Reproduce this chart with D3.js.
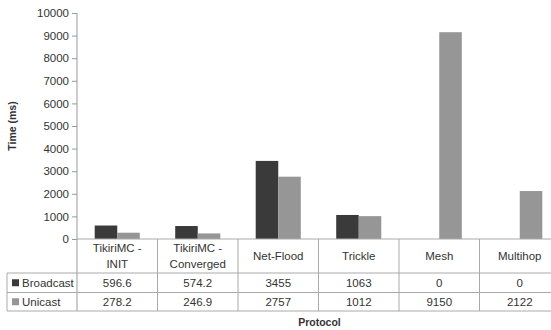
<!DOCTYPE html>
<html>
<head>
<meta charset="utf-8">
<script src="https://cdn.jsdelivr.net/npm/d3@7"></script>
<style>
  html, body { margin: 0; padding: 0; background: #fff; }
  svg { display: block; }
  text { font-family: "Liberation Sans", Arial, sans-serif; fill: #333; }
</style>
</head>
<body>
<svg id="chart" width="551" height="330"></svg>
<script>
const categories = ["TikiriMC - INIT", "TikiriMC - Converged", "Net-Flood", "Trickle", "Mesh", "Multihop"];
const categoryLines = [["TikiriMC -", "INIT"], ["TikiriMC -", "Converged"], ["Net-Flood"], ["Trickle"], ["Mesh"], ["Multihop"]];
const seriesNames = ["Broadcast", "Unicast"];
const broadcast = [596.6, 574.2, 3455, 1063, 0, 0];
const unicast = [278.2, 246.9, 2757, 1012, 9150, 2122];
const broadcastLabels = ["596.6", "574.2", "3455", "1063", "0", "0"];
const unicastLabels = ["278.2", "246.9", "2757", "1012", "9150", "2122"];
const yTicks = [0, 1000, 2000, 3000, 4000, 5000, 6000, 7000, 8000, 9000, 10000];
const colors = ["#3a3a3a", "#969696"];

const svg = d3.select("#chart");
const mLeft = 77, mRight = 560, mTop = 13, mBottom = 239;
const tableLeft = 7;
const rowY = [239, 273, 292.5, 311];
const gridColor = "#aaaaaa";

const x = d3.scaleBand().domain(categories).range([mLeft, mRight]).paddingInner(0.44).paddingOuter(0.22);
const xs = d3.scaleBand().domain(seriesNames).range([0, x.bandwidth()]);
const y = d3.scaleLinear().domain([0, 10000]).range([mBottom, mTop]);
const step = x.step();

// y axis
const yAxis = d3.axisLeft(y).tickValues(yTicks).tickSize(5).tickPadding(3).tickFormat(d3.format("d"));
const gy = svg.append("g").attr("transform", `translate(${mLeft},0)`).call(yAxis);
gy.select(".domain").remove();
gy.selectAll(".tick line").attr("stroke", "#999");
gy.selectAll(".tick text").style("font-size", "11.5px").style("font-family", "'Liberation Sans', Arial, sans-serif").attr("fill", "#333");
svg.append("line").attr("x1", mLeft).attr("x2", mLeft).attr("y1", mTop).attr("y2", rowY[3]).attr("stroke", "#999");

// bars
const data = [broadcast, unicast];
const groups = svg.append("g");
categories.forEach((c, i) => {
  seriesNames.forEach((s, j) => {
    const v = data[j][i];
    if (v > 0) {
      groups.append("rect")
        .attr("x", x(c) + xs(s))
        .attr("y", y(v))
        .attr("width", xs.bandwidth())
        .attr("height", y(0) - y(v))
        .attr("fill", colors[j]);
    }
  });
});

// x axis line
svg.append("line").attr("x1", mLeft).attr("x2", 551).attr("y1", mBottom).attr("y2", mBottom).attr("stroke", gridColor);

// table horizontal lines
[1, 2, 3].forEach(k => {
  svg.append("line").attr("x1", tableLeft).attr("x2", 551).attr("y1", rowY[k]).attr("y2", rowY[k]).attr("stroke", gridColor);
});
// table left border
svg.append("line").attr("x1", tableLeft).attr("x2", tableLeft).attr("y1", rowY[1]).attr("y2", rowY[3]).attr("stroke", gridColor);
// column separators
categories.forEach((c, i) => {
  if (i > 0) {
    const xb = mLeft + i * step;
    svg.append("line").attr("x1", xb).attr("x2", xb).attr("y1", rowY[0]).attr("y2", rowY[3]).attr("stroke", gridColor);
  }
});

// category labels
categories.forEach((c, i) => {
  const cx = x(c) + x.bandwidth() / 2;
  const lines = categoryLines[i];
  const midY = (rowY[0] + rowY[1]) / 2;
  lines.forEach((ln, k) => {
    const off = lines.length === 1 ? 0 : (k === 0 ? -8 : 8);
    svg.append("text").attr("x", cx).attr("y", midY + off).attr("dy", "0.35em")
      .attr("text-anchor", "middle").style("font-size", "11.5px").text(ln);
  });
});

// data rows
const labelRows = [broadcastLabels, unicastLabels];
labelRows.forEach((row, r) => {
  const cy = (rowY[r + 1] + rowY[r + 2]) / 2;
  categories.forEach((c, i) => {
    svg.append("text").attr("x", x(c) + x.bandwidth() / 2).attr("y", cy).attr("dy", "0.35em")
      .attr("text-anchor", "middle").style("font-size", "11.5px").text(row[i]);
  });
  svg.append("rect").attr("x", 12).attr("y", cy - 3.5).attr("width", 7).attr("height", 7).attr("fill", colors[r]);
  svg.append("text").attr("x", 22).attr("y", cy).attr("dy", "0.35em")
    .style("font-size", "11.5px").text(seriesNames[r]);
});

// axis titles
svg.append("text").attr("transform", `translate(16,126) rotate(-90)`).attr("text-anchor", "middle")
  .style("font-size", "10.5px").style("font-weight", "bold").text("Time (ms)");
svg.append("text").attr("x", (mLeft + mRight) / 2 + 1).attr("y", 322).attr("dy", "0.35em").attr("text-anchor", "middle")
  .style("font-size", "10.5px").style("font-weight", "bold").text("Protocol");
</script>
</body>
</html>
